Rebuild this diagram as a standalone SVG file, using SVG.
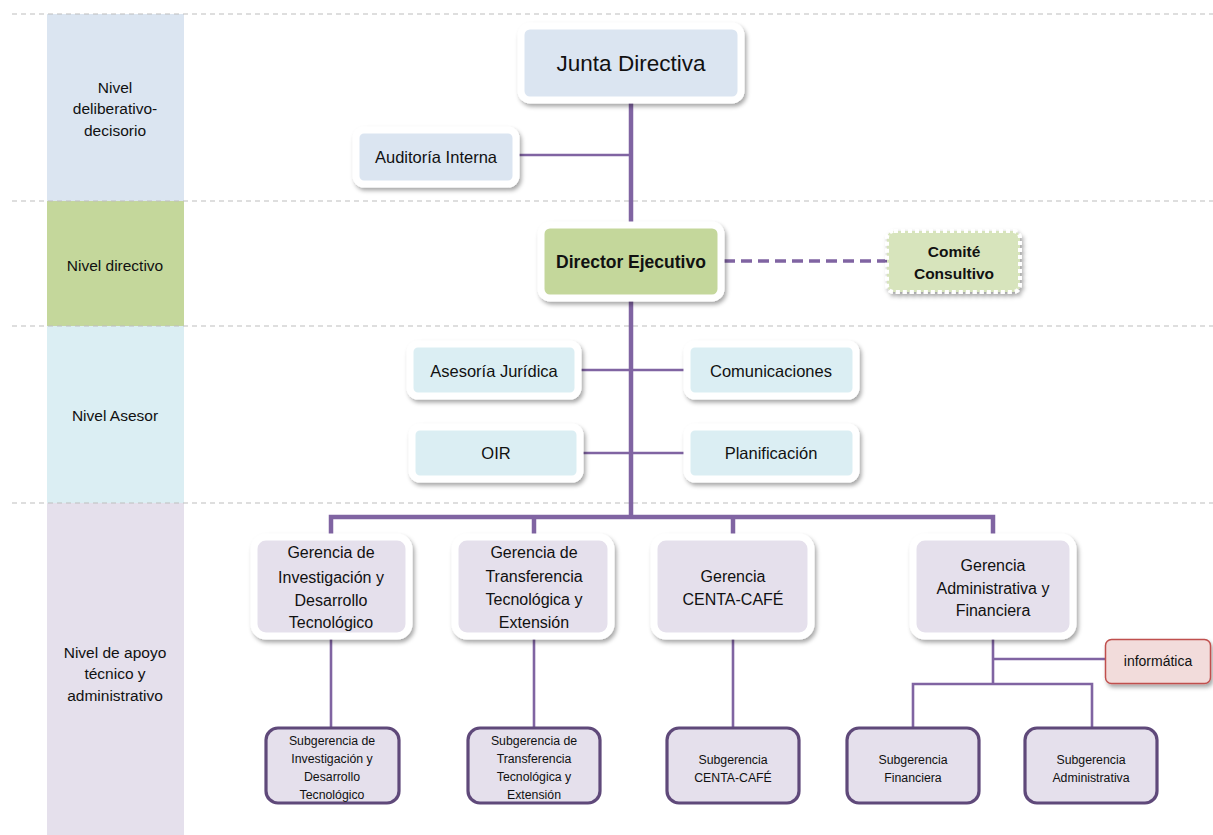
<svg xmlns="http://www.w3.org/2000/svg" width="1213" height="835" viewBox="0 0 1213 835">
<defs>
<filter id="sh" x="-20%" y="-20%" width="140%" height="150%">
<feDropShadow dx="2" dy="3" stdDeviation="2.2" flood-color="#000" flood-opacity="0.35"/>
</filter>
<style>
text{font-family:"Liberation Sans",Arial,sans-serif;fill:#111;text-anchor:middle;dominant-baseline:central}
.band{stroke:none}
.sep{stroke:#BDBDBD;stroke-width:1.2;stroke-dasharray:5,4;fill:none}
.trunk{stroke:#8064A2;stroke-width:4.5;fill:none}
.thin{stroke:#8064A2;stroke-width:2.6;fill:none}
.dash{stroke:#8064A2;stroke-width:3.5;stroke-dasharray:11,6;fill:none}
.box{stroke:#fff;stroke-width:7;filter:url(#sh)}
.blue{fill:#DBE5F1}
.green{fill:#C4D79B}
.aqua{fill:#DBEEF3}
.lav{fill:#E5E0EC}
.sub{fill:#E5E0EC;stroke:#5F497A;stroke-width:3.2}
.lbl{font-size:15.5px}
.g{font-size:16px}
.s{font-size:12.3px}
</style>
</defs>
<g id="bands">
<rect class="band" x="47" y="14" width="137" height="187" fill="#DBE5F1"/>
<rect class="band" x="47" y="201" width="137" height="125" fill="#C4D79B"/>
<rect class="band" x="47" y="326" width="137" height="177" fill="#DBEEF3"/>
<rect class="band" x="47" y="503" width="137" height="332" fill="#E5E0EC"/>
<line class="sep" x1="12" y1="14" x2="1213" y2="14"/>
<line class="sep" x1="12" y1="201" x2="1213" y2="201"/>
<line class="sep" x1="12" y1="326" x2="1213" y2="326"/>
<line class="sep" x1="12" y1="503" x2="1213" y2="503"/>
<text class="lbl" x="115" y="87">Nivel</text>
<text class="lbl" x="115" y="108">deliberativo-</text>
<text class="lbl" x="115" y="130">decisorio</text>
<text class="lbl" x="115" y="265">Nivel directivo</text>
<text class="lbl" x="115" y="415">Nivel Asesor</text>
<text class="lbl" x="115" y="652">Nivel de apoyo</text>
<text class="lbl" x="115" y="673">técnico y</text>
<text class="lbl" x="115" y="695">administrativo</text>
</g>
<g id="connectors">
<line class="trunk" x1="631" y1="100" x2="631" y2="517"/>
<line class="thin" x1="517" y1="155" x2="631" y2="155"/>
<line class="dash" x1="724" y1="261" x2="888" y2="261"/>
<line class="thin" x1="580" y1="370" x2="686" y2="370"/>
<line class="thin" x1="583" y1="453" x2="686" y2="453"/>
<polyline class="trunk" points="331,538 331,517 993,517 993,538"/>
<line class="trunk" x1="534" y1="517" x2="534" y2="538"/>
<line class="trunk" x1="733" y1="517" x2="733" y2="538"/>
<line class="thin" x1="331" y1="638" x2="331" y2="728"/>
<line class="thin" x1="534" y1="638" x2="534" y2="728"/>
<line class="thin" x1="733" y1="638" x2="733" y2="728"/>
<line class="thin" x1="993" y1="638" x2="993" y2="684"/>
<line class="thin" x1="993" y1="659" x2="1106" y2="659"/>
<polyline class="thin" points="913,728 913,684 1092,684 1092,728"/>
</g>
<g id="junta">
<rect class="box blue" x="521" y="26" width="220" height="74" rx="9"/>
<text x="631" y="63" font-size="22.5px">Junta Directiva</text>
</g>
<g id="auditoria">
<rect class="box blue" x="356" y="130" width="160" height="54" rx="8"/>
<text x="436" y="157" style="font-size:16.5px">Auditoría Interna</text>
</g>
<g id="director">
<rect class="box green" x="541" y="225" width="180" height="73" rx="9"/>
<text x="631" y="262" style="font-size:17.5px;font-weight:bold">Director Ejecutivo</text>
</g>
<g id="comite">
<rect x="887" y="231" width="133" height="61" rx="7" fill="#D7E4BC" stroke="#fff" stroke-width="4" stroke-dasharray="4,3" filter="url(#sh)"/>
<text x="954" y="251" style="font-size:15.5px;font-weight:bold">Comité</text>
<text x="954" y="273" style="font-size:15.5px;font-weight:bold">Consultivo</text>
</g>
<g id="juridica">
<rect class="box aqua" x="410" y="344" width="168" height="52" rx="8"/>
<text x="494" y="371" style="font-size:16.5px">Asesoría Jurídica</text>
</g>
<g id="comunicaciones">
<rect class="box aqua" x="687" y="344" width="169" height="52" rx="8"/>
<text x="771" y="371" style="font-size:16.5px">Comunicaciones</text>
</g>
<g id="oir">
<rect class="box aqua" x="412" y="427" width="168" height="52" rx="8"/>
<text x="496" y="453" style="font-size:16.5px">OIR</text>
</g>
<g id="planificacion">
<rect class="box aqua" x="687" y="427" width="169" height="52" rx="8"/>
<text x="771" y="453" style="font-size:16.5px">Planificación</text>
</g>
<g id="g-investigacion">
<rect class="box lav" x="254" y="537" width="155" height="99" rx="12"/>
<text class="g" x="331" y="552">Gerencia de</text>
<text class="g" x="331" y="577">Investigación y</text>
<text class="g" x="331" y="600">Desarrollo</text>
<text class="g" x="331" y="622">Tecnológico</text>
</g>
<g id="g-transferencia">
<rect class="box lav" x="455" y="537" width="156" height="99" rx="12"/>
<text class="g" x="534" y="552">Gerencia de</text>
<text class="g" x="534" y="576">Transferencia</text>
<text class="g" x="534" y="599">Tecnológica y</text>
<text class="g" x="534" y="622">Extensión</text>
</g>
<g id="g-centa">
<rect class="box lav" x="654" y="537" width="157" height="99" rx="12"/>
<text class="g" x="733" y="576">Gerencia</text>
<text class="g" x="733" y="599">CENTA-CAFÉ</text>
</g>
<g id="g-admin">
<rect class="box lav" x="913" y="537" width="160" height="99" rx="12"/>
<text class="g" x="993" y="565">Gerencia</text>
<text class="g" x="993" y="588">Administrativa y</text>
<text class="g" x="993" y="610">Financiera</text>
</g>
<g id="informatica">
<rect x="1105.5" y="639.5" width="105" height="44" rx="6" fill="#F2DCDB" stroke="#C0504D" stroke-width="1.5" filter="url(#sh)"/>
<text x="1158" y="661" style="font-size:14px">informática</text>
</g>
<g id="s-investigacion">
<rect class="sub" x="266" y="728" width="133" height="75" rx="12"/>
<text class="s" x="332" y="741">Subgerencia de</text>
<text class="s" x="332" y="759">Investigación y</text>
<text class="s" x="332" y="777">Desarrollo</text>
<text class="s" x="332" y="795">Tecnológico</text>
</g>
<g id="s-transferencia">
<rect class="sub" x="468" y="728" width="132" height="75" rx="12"/>
<text class="s" x="534" y="741">Subgerencia de</text>
<text class="s" x="534" y="759">Transferencia</text>
<text class="s" x="534" y="777">Tecnológica y</text>
<text class="s" x="534" y="795">Extensión</text>
</g>
<g id="s-centa">
<rect class="sub" x="667" y="728" width="132" height="75" rx="12"/>
<text class="s" x="733" y="760">Subgerencia</text>
<text class="s" x="733" y="778">CENTA-CAFÉ</text>
</g>
<g id="s-financiera">
<rect class="sub" x="847" y="728" width="132" height="75" rx="12"/>
<text class="s" x="913" y="760">Subgerencia</text>
<text class="s" x="913" y="778">Financiera</text>
</g>
<g id="s-administrativa">
<rect class="sub" x="1025" y="728" width="132" height="75" rx="12"/>
<text class="s" x="1091" y="760">Subgerencia</text>
<text class="s" x="1091" y="778">Administrativa</text>
</g>
</svg>
